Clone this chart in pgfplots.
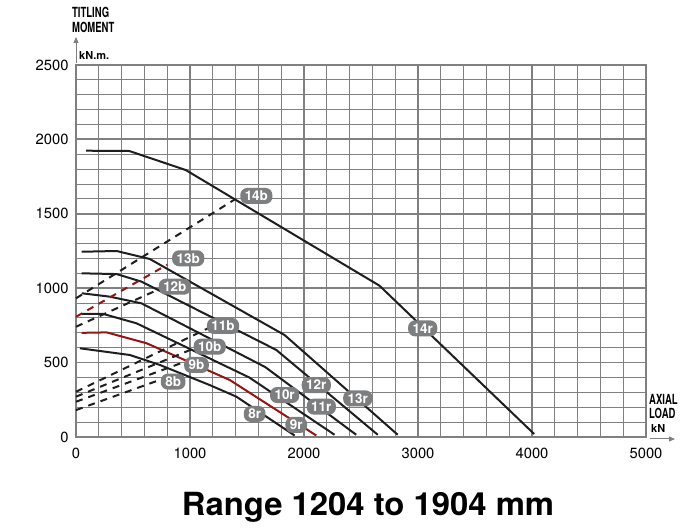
\documentclass[border=0pt]{standalone}
\usepackage{fontspec}
\setmainfont{TeX Gyre Heros}
\usepackage{pgfplots}
\pgfplotsset{compat=1.18}
\usetikzlibrary{arrows.meta}
\definecolor{gridgray}{RGB}{128,128,128}
\definecolor{lblgray}{RGB}{125,126,128}
\definecolor{darkred}{RGB}{150,20,20}
\definecolor{curve}{RGB}{30,30,30}
\tikzset{lbl/.style={fill=lblgray, text=white, font=\bfseries\fontsize{13.5}{14}\selectfont,
  rounded corners=7bp, inner xsep=4.5bp, inner ysep=0pt, minimum height=16bp}}
\begin{document}
\begin{tikzpicture}
\path[use as bounding box] (0,0) rectangle (691bp,531bp);
\begin{axis}[
  at={(76bp,94bp)}, anchor=south west,
  scale only axis, width=570bp, height=372bp,
  xmin=0,xmax=5000,ymin=0,ymax=2500,
  xtick={0,1000,...,5000}, ytick={0,500,...,2500},
  minor x tick num=4, minor y tick num=4,
  grid=both,
  major grid style={gridgray, line width=1.8bp},
  minor grid style={gridgray, line width=1bp},
  axis line style={gridgray, line width=1.8bp},
  major tick length=0pt, minor tick length=0pt,
  tick label style={font=\fontsize{14.8}{16}\selectfont},
  xticklabel style={yshift=-8bp},
  yticklabel style={xshift=-4bp},
  /pgf/number format/assume math mode=true,
  /pgf/number format/1000 sep={},
  clip=false,
]
% raceway curves
\addplot[curve, line width=2bp] coordinates {(88,1924)(467,1922)(963,1794)(2662,1017)(4019,20)};
\addplot[curve, line width=2bp] coordinates {(50,1245)(356,1250)(648,1196)(1830,685)(2822,15)};
\addplot[curve, line width=2bp] coordinates {(50,1100)(356,1095)(575,1044)(1757,585)(2647,15)};
\addplot[curve, line width=2bp] coordinates {(50,966)(298,943)(575,898)(1660,470)(2458,15)};
\addplot[curve, line width=2bp] coordinates {(50,827)(239,827)(531,764)(1520,400)(2268,15)};
\addplot[darkred, line width=2bp] coordinates {(50,700)(269,703)(619,630)(940,522)(1349,383)(2108,10)};
\addplot[curve, line width=2bp] coordinates {(35,596)(473,551)(736,484)(1173,349)(1407,271)(1918,10)};
% bolt curves
\addplot[curve, line width=2bp, dash pattern=on 7bp off 6bp] coordinates {(0,932)(1400,1600)};
\addplot[darkred, line width=2bp, dash pattern=on 7bp off 6bp] coordinates {(0,808)(800,1158)};
\addplot[curve, line width=2bp, dash pattern=on 7bp off 6bp] coordinates {(0,741)(690,980)};
\addplot[curve, line width=2bp, dash pattern=on 7bp off 6bp] coordinates {(0,304)(1170,735)};
\addplot[curve, line width=2bp, dash pattern=on 7bp off 6bp] coordinates {(0,271)(1050,600)};
\addplot[curve, line width=2bp, dash pattern=on 7bp off 6bp] coordinates {(0,237)(935,500)};
\addplot[curve, line width=2bp, dash pattern=on 7bp off 6bp] coordinates {(0,181)(740,385)};
% labels
\node[lbl] at (axis cs:1582,1620) {14b};
\node[lbl] at (axis cs:984,1201) {13b};
\node[lbl] at (axis cs:867,1010) {12b};
\node[lbl] at (axis cs:1290,746) {11b};
\node[lbl] at (axis cs:1173,607) {10b};
\node[lbl] at (axis cs:1057,484) {9b};
\node[lbl] at (axis cs:852,372) {8b};
\node[lbl] at (axis cs:3041,730) {14r};
\node[lbl] at (axis cs:2472,260) {13r};
\node[lbl] at (axis cs:2108,349) {12r};
\node[lbl] at (axis cs:2152,204) {11r};
\node[lbl] at (axis cs:1830,282) {10r};
\node[lbl] at (axis cs:1932,81) {9r};
\node[lbl] at (axis cs:1567,155) {8r};
\end{axis}
% axis titles
\node[anchor=base west, inner sep=0pt, font=\bfseries\fontsize{14}{14}\selectfont] at (72bp,513bp) {\scalebox{0.68}[1]{TITLING}};
\node[anchor=base west, inner sep=0pt, font=\bfseries\fontsize{14}{14}\selectfont] at (72bp,498bp) {\scalebox{0.68}[1]{MOMENT}};
\node[anchor=base west, inner sep=0pt, font=\bfseries\fontsize{11}{11}\selectfont] at (79bp,471bp) {kN.m.};
\draw[gridgray, line width=1bp, -{Triangle[length=6bp,width=5bp]}] (76bp,468bp) -- (76bp,494bp);
\node[anchor=base west, inner sep=0pt, font=\bfseries\fontsize{14}{14}\selectfont] at (649bp,126bp) {\scalebox{0.68}[1]{AXIAL}};
\node[anchor=base west, inner sep=0pt, font=\bfseries\fontsize{14}{14}\selectfont] at (649bp,112bp) {\scalebox{0.68}[1]{LOAD}};
\node[anchor=base west, inner sep=0pt, font=\bfseries\fontsize{11}{11}\selectfont] at (651bp,98bp) {kN};
\draw[gridgray, line width=1bp, -{Triangle[length=6bp,width=5bp]}] (650bp,92bp) -- (675bp,92bp);
% title
\node[anchor=base, inner sep=0pt, font=\bfseries\fontsize{32}{32}\selectfont] at (368bp,16bp) {\scalebox{1.03}[1]{Range 1204 to 1904 mm}};
\end{tikzpicture}
\end{document}
